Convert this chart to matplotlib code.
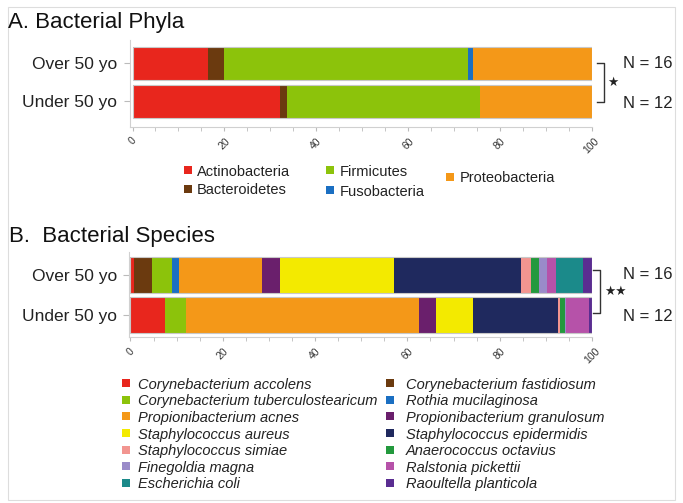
import matplotlib
matplotlib.use('Agg')
import matplotlib.pyplot as plt
from matplotlib.patches import Rectangle
from matplotlib.ticker import MultipleLocator

plt.rcParams['font.family'] = ['Liberation Sans', 'DejaVu Sans']

# groups, top to bottom
groups = ['Over 50 yo', 'Under 50 yo']
group_n = ['N = 16', 'N = 12']

# Panel A: phyla (% relative abundance)
phyla = ['Actinobacteria', 'Bacteroidetes', 'Firmicutes', 'Fusobacteria', 'Proteobacteria']
phyla_colors = ['#e8261d', '#6b3a0f', '#8cc30b', '#1b6fc2', '#f49818']
phyla_over = [16.5, 3.5, 53.0, 1.1, 25.9]
phyla_under = [32.1, 1.5, 42.0, 0.0, 24.4]

# Panel B: species (% relative abundance)
species = ['Corynebacterium accolens', 'Corynebacterium fastidiosum',
           'Corynebacterium tuberculostearicum', 'Rothia mucilaginosa',
           'Propionibacterium acnes', 'Propionibacterium granulosum',
           'Staphylococcus aureus', 'Staphylococcus epidermidis',
           'Staphylococcus simiae', 'Anaerococcus octavius',
           'Finegoldia magna', 'Ralstonia pickettii',
           'Escherichia coli', 'Raoultella planticola']
species_colors = ['#e8261d', '#6b3a0f', '#8cc30b', '#1b6fc2', '#f49818', '#6a1f6c',
                  '#f3ea00', '#1f295e', '#f29590', '#23993d', '#9a8bc9', '#b652a9',
                  '#1b8a8a', '#5a2d91']
species_over = [0.7, 3.9, 4.3, 1.6, 18.1, 3.8, 24.8, 27.4, 2.1, 1.8, 1.8, 1.9, 5.8, 2.0]
species_under = [7.5, 0.0, 4.5, 0.1, 50.5, 3.6, 8.1, 18.4, 0.4, 1.0, 0.3, 5.0, 0.0, 0.6]

W, H = 683, 503
fig = plt.figure(figsize=(W / 100, H / 100), dpi=100)
fig.patch.set_facecolor('white')


def px_axes(left, top, right, bottom):
    return fig.add_axes([left / W, 1 - bottom / H, (right - left) / W, (bottom - top) / H])


def stacked(ax, over, under, colors, height, xlim, ylim):
    ypos = [1, 0]
    rows = [over, under]
    for y, vals in zip(ypos, rows):
        left = 0
        for v, c in zip(vals, colors):
            if v > 0:
                ax.barh(y, v, left=left, height=height, color=c, linewidth=0)
            left += v
        ax.barh(y, 100, left=0, height=height, fill=False, edgecolor='#c8c8c8', linewidth=0.8)
    ax.set_xlim(*xlim)
    ax.set_ylim(*ylim)
    ax.set_yticks(ypos)
    ax.set_yticklabels(groups, fontsize=12.5, color='#222222')
    ax.xaxis.set_major_locator(MultipleLocator(20))
    ax.xaxis.set_minor_locator(MultipleLocator(5))
    ax.tick_params(axis='x', which='both', length=3, color='#bbbbbb', labelsize=7.5,
                   labelcolor='#333333', labelrotation=45)
    ax.tick_params(axis='y', length=4, color='#bbbbbb', pad=5)
    for s in ['top', 'right']:
        ax.spines[s].set_visible(False)
    for s in ['left', 'bottom']:
        ax.spines[s].set_color('#d0d0d0')
        ax.spines[s].set_linewidth(0.8)
    ax.set_facecolor('none')


# Panel A
axA = px_axes(130, 40, 592, 126.7)
stacked(axA, phyla_over, phyla_under, phyla_colors, 0.87, (-0.55, 100.07), (-0.67, 1.61))
axA.plot([101.1, 102.7, 102.7, 101.1], [1, 1, -0.03, -0.03], color='#333333', lw=1, clip_on=False)
axA.text(104.5, 0.5, '\u2605', fontsize=9, ha='center', va='center', color='#222222',
         family='DejaVu Sans', clip_on=False)
axA.text(106.9, 1.0, group_n[0], fontsize=12, va='center', color='#222222', clip_on=False)
axA.text(106.9, -0.05, group_n[1], fontsize=12, va='center', color='#222222', clip_on=False)

# Panel B
axB = px_axes(129.3, 251.7, 592, 337.3)
stacked(axB, species_over, species_under, species_colors, 0.885, (-0.26, 100.0), (-0.56, 1.58))
axB.plot([100.2, 101.7, 101.7, 100.2], [1.12, 1.12, 0.06, 0.06], color='#333333', lw=1, clip_on=False)
axB.text(105.0, 0.58, '\u2605\u2605', fontsize=9, ha='center', va='center', color='#222222',
         family='DejaVu Sans', clip_on=False)
axB.text(106.7, 1.0, group_n[0], fontsize=12, va='center', color='#222222', clip_on=False)
axB.text(106.7, -0.04, group_n[1], fontsize=12, va='center', color='#222222', clip_on=False)

# overlay in pixel coordinates for titles, legends and the frame
ov = fig.add_axes([0, 0, 1, 1], zorder=-1)
ov.set_xlim(0, W)
ov.set_ylim(H, 0)
ov.axis('off')
ov.add_patch(Rectangle((8, 7), 667, 493, fill=False, edgecolor='#dddddd', lw=0.8))

ov.text(8, 28.3, 'A. Bacterial Phyla', fontsize=16, va='baseline', color='#111111')
ov.text(9, 241.7, 'B.  Bacterial Species', fontsize=16, va='baseline', color='#111111')

# phyla legend: two columns of two, Proteobacteria on its own
phyla_pos = [(187.5, 170), (187.5, 188.5), (330, 170), (330, 190), (450.3, 176.7)]
sq = 8
for name, c, (x, y) in zip(phyla, phyla_colors, phyla_pos):
    ov.add_patch(Rectangle((x - sq / 2, y - sq / 2), sq, sq, color=c, lw=0))
    ov.text(x + 9.5, y, name, fontsize=10.5, va='center_baseline', color='#222222')

# species legend: filled row by row in two columns
for i, (name, c) in enumerate(zip(species, species_colors)):
    col, row = i % 2, i // 2
    x = 126 if col == 0 else 390
    y = 383.3 + row * 16.57
    ov.add_patch(Rectangle((x - sq / 2, y - sq / 2), sq, sq, color=c, lw=0))
    ov.text(x + 12.5 + col * 3.5, y, name, fontsize=10.5, style='italic',
            va='center_baseline', color='#222222')

fig.savefig('out.png', dpi=100)
